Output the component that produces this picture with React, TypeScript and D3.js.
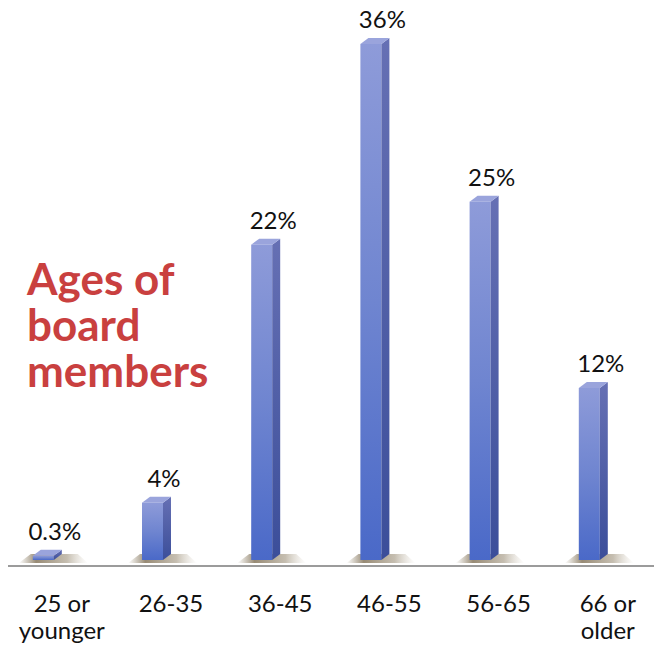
import React from "react";
import * as d3 from "d3";

const categories = ["25 or younger", "26-35", "36-45", "46-55", "56-65", "66 or older"];
const labelLines = [["25 or", "younger"], ["26-35"], ["36-45"], ["46-55"], ["56-65"], ["66 or", "older"]];
const values = [0.3, 4, 22, 36, 25, 12];
const valueLabels = ["0.3%", "4%", "22%", "36%", "25%", "12%"];
const titleLines = ["Ages of", "board", "members"];

const W = 654;
const H = 648;

export default function App() {
  const x = d3
    .scaleBand<string>()
    .domain(categories)
    .range([0, 632.6])
    .paddingInner(0.8077)
    .paddingOuter(0.3004);
  const y = d3.scaleLinear().domain([0, 36]).range([560, 44]);
  const bw = x.bandwidth();
  const dx = 8;
  const dy = 6;
  const base = y(0);

  return (
    <svg width={W} height={H} style={{ position: "absolute", left: 0, top: 0, background: "#fff" }}>
      <defs>
        <linearGradient id="front" x1="0" y1="0" x2="0" y2="1">
          <stop offset="0" stopColor="#8e9bd9" />
          <stop offset="0.5" stopColor="#6f85d0" />
          <stop offset="1" stopColor="#4a69c8" />
        </linearGradient>
        <linearGradient id="side" x1="0" y1="0" x2="0" y2="1">
          <stop offset="0" stopColor="#6670b4" />
          <stop offset="1" stopColor="#3b4e9a" />
        </linearGradient>
        <linearGradient id="shadow" x1="0" y1="0" x2="1" y2="0">
          <stop offset="0" stopColor="#8c7d62" stopOpacity="0" />
          <stop offset="0.25" stopColor="#7d6d52" stopOpacity="0.8" />
          <stop offset="0.7" stopColor="#8c7d62" stopOpacity="0.5" />
          <stop offset="1" stopColor="#b8ad98" stopOpacity="0" />
        </linearGradient>
      </defs>

      <line x1={8} x2={W} y1={566} y2={566} stroke="#9b9b9b" strokeWidth={2} />

      {categories.map((c, i) => {
        const x0 = x(c)!;
        const top = y(values[i]);
        return (
          <g key={c}>
            <polygon
              points={`${x0 - 14},${base + 3} ${x0 + bw + dx + 26},${base + 3} ${x0 + bw + dx + 16},${base - 6} ${x0 - 2},${base - 6}`}
              fill="url(#shadow)"
            />
            <rect x={x0} y={top} width={bw} height={base - top} fill="url(#front)" />
            <polygon
              points={`${x0 + bw},${top} ${x0 + bw + dx},${top - dy} ${x0 + bw + dx},${base - dy} ${x0 + bw},${base}`}
              fill="url(#side)"
            />
            <polygon
              points={`${x0},${top} ${x0 + bw},${top} ${x0 + bw + dx},${top - dy} ${x0 + dx},${top - dy}`}
              fill="#9aa4dc"
            />
            <text
              x={x0 + 22}
              y={top - 16}
              textAnchor="middle"
              fontFamily="Lato, sans-serif"
              fontSize={24}
              fill="#111"
            >
              {valueLabels[i]}
            </text>
            {labelLines[i].map((ln, j) => (
              <text
                key={j}
                x={x0 + 29}
                y={612 + j * 27}
                textAnchor="middle"
                fontFamily="Lato, sans-serif"
                fontSize={24}
                fill="#111"
              >
                {ln}
              </text>
            ))}
          </g>
        );
      })}

      {titleLines.map((t, i) => (
        <text
          key={t}
          x={27}
          y={295 + i * 46}
          fontFamily="Lato, sans-serif"
          fontWeight="bold"
          fontSize={44}
          fill="#c9403f"
        >
          {t}
        </text>
      ))}
    </svg>
  );
}
